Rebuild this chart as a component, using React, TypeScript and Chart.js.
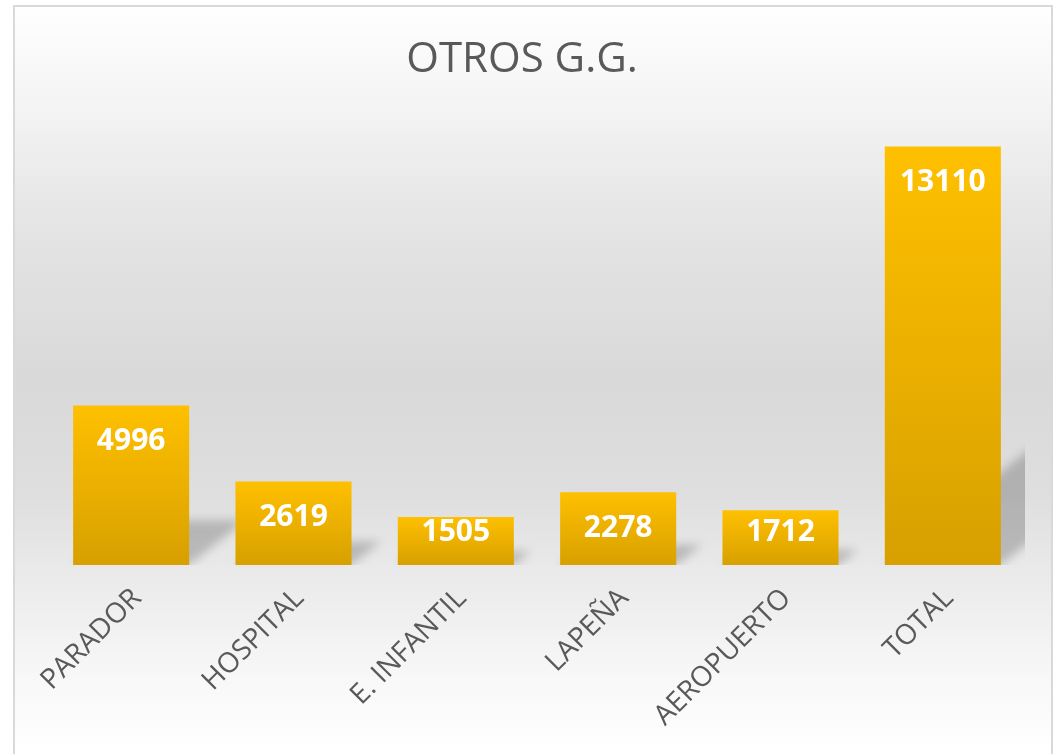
import React, { useEffect, useRef } from 'react';
import { Chart, registerables } from 'chart.js';

Chart.register(...registerables);

const categories = ['PARADOR', 'HOSPITAL', 'E. INFANTIL', 'LAPEÑA', 'AEROPUERTO', 'TOTAL'];
const values = [4996, 2619, 1505, 2278, 1712, 13110];
const chartTitle = 'OTROS G.G.';
const yMin = 0;
const yMax = 14000;

const W = 1064;
const H = 754;

const backgroundPlugin = {
  id: 'bgPanel',
  beforeDraw(chart: any) {
    const ctx = chart.ctx;
    ctx.save();
    ctx.fillStyle = '#ffffff';
    ctx.fillRect(0, 0, chart.width, chart.height);
    const g = ctx.createLinearGradient(0, 5, 0, chart.height);
    g.addColorStop(0, '#ffffff');
    g.addColorStop(0.1, '#f7f7f7');
    g.addColorStop(0.3, '#e4e4e4');
    g.addColorStop(0.5, '#d9d9d9');
    g.addColorStop(0.65, '#dedede');
    g.addColorStop(0.75, '#e9e9e9');
    g.addColorStop(0.9, '#f8f8f8');
    g.addColorStop(1, '#ffffff');
    ctx.fillStyle = g;
    ctx.fillRect(14, 6, 1038, chart.height);
    ctx.strokeStyle = '#d9d9d9';
    ctx.lineWidth = 2;
    ctx.strokeRect(14, 6, 1038, chart.height + 10);
    // title
    ctx.fillStyle = '#595959';
    ctx.font = '42px "Open Sans"';
    ctx.textAlign = 'center';
    ctx.textBaseline = 'alphabetic';
    ctx.fillText(chartTitle, 522, 72);
    ctx.restore();
  },
};

const shadowPlugin = {
  id: 'barShadows',
  beforeDatasetsDraw(chart: any) {
    const ctx = chart.ctx;
    const meta = chart.getDatasetMeta(0);
    ctx.save();
    ctx.beginPath();
    ctx.rect(0, 0, chart.chartArea.right + 1, chart.chartArea.bottom);
    ctx.clip();
    ctx.filter = 'blur(5px)';
    ctx.fillStyle = 'rgba(0,0,0,0.2)';
    meta.data.forEach((bar: any) => {
      const p = bar.getProps(['x', 'y', 'base', 'width'], true);
      const left = p.x - p.width / 2;
      const right = p.x + p.width / 2;
      const h = (p.base - p.y) * 0.28;
      const dx = h * 1.25;
      ctx.beginPath();
      ctx.moveTo(left, p.base);
      ctx.lineTo(right, p.base);
      ctx.lineTo(right + dx, p.base - h);
      ctx.lineTo(left + dx, p.base - h);
      ctx.closePath();
      ctx.fill();
    });
    ctx.restore();
  },
};

const labelPlugin = {
  id: 'barLabels',
  afterDatasetsDraw(chart: any) {
    const ctx = chart.ctx;
    const meta = chart.getDatasetMeta(0);
    const data = chart.data.datasets[0].data;
    ctx.save();
    ctx.fillStyle = '#ffffff';
    ctx.font = 'bold 30px "Open Sans"';
    ctx.textAlign = 'center';
    ctx.textBaseline = 'middle';
    meta.data.forEach((bar: any, i: number) => {
      const p = bar.getProps(['x', 'y', 'base'], true);
      const cy = Math.min(p.y + 36, p.base - 33);
      ctx.fillText(String(data[i]), p.x, cy);
    });
    ctx.restore();
  },
};

export default function App() {
  const canvasRef = useRef<HTMLCanvasElement | null>(null);

  useEffect(() => {
    if (!canvasRef.current) return;
    const chart = new Chart(canvasRef.current, {
      type: 'bar',
      data: {
        labels: categories,
        datasets: [
          {
            data: values,
            backgroundColor: (c: any) => {
              const ch = c.chart;
              const ys = ch.scales && ch.scales.y;
              if (!ys || c.raw == null) return '#FFC000';
              const top = ys.getPixelForValue(c.raw);
              const base = ys.getPixelForValue(0);
              if (!isFinite(top) || !isFinite(base) || top === base) return '#FFC000';
              const g = ch.ctx.createLinearGradient(0, top, 0, base);
              g.addColorStop(0, '#FFC000');
              g.addColorStop(1, '#D7A000');
              return g;
            },
            borderWidth: 0,
            barPercentage: 0.715,
            categoryPercentage: 1,
          },
        ],
      },
      options: {
        responsive: false,
        animation: false,
        events: [],
        layout: { padding: { left: 50, right: 40, top: 118, bottom: 0 } },
        plugins: {
          legend: { display: false },
          tooltip: { enabled: false },
          title: { display: false },
        },
        scales: {
          x: {
            grid: { display: false, drawTicks: false },
            border: { display: false },
            ticks: {
              color: '#595959',
              font: { family: '"Open Sans"', size: 28 },
              minRotation: 45,
              maxRotation: 45,
              padding: 17,
              labelOffset: 6,
              autoSkip: false,
            },
            afterFit: (scale: any) => {
              scale.height = 189;
            },
          },
          y: {
            display: false,
            min: yMin,
            max: yMax,
          },
        },
      },
      plugins: [backgroundPlugin, shadowPlugin, labelPlugin],
    });
    return () => chart.destroy();
  }, []);

  return (
    <div style={{ position: 'fixed', left: 0, top: 0, width: W, height: H }}>
      <canvas ref={canvasRef} width={W} height={H} style={{ display: 'block' }} />
    </div>
  );
}
